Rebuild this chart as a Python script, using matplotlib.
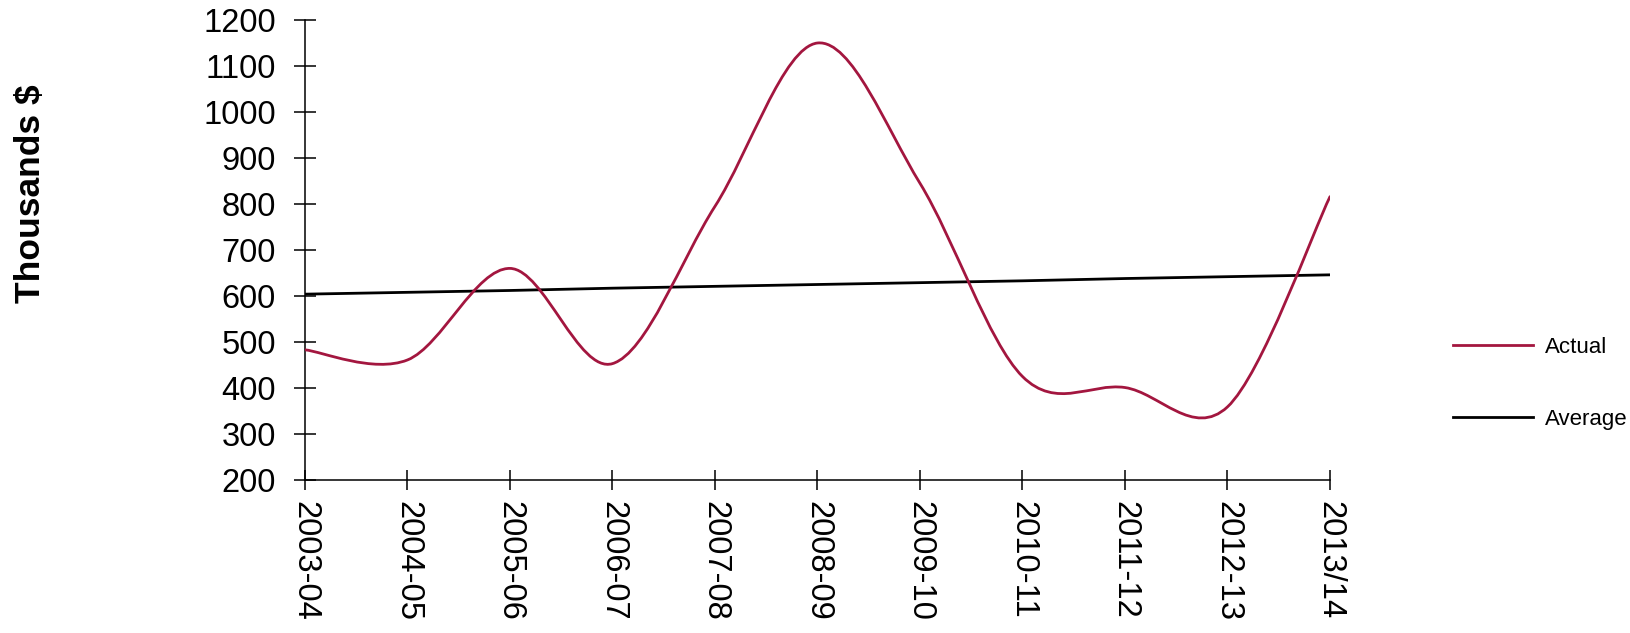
import numpy as np
import matplotlib
matplotlib.use("Agg")
import matplotlib.pyplot as plt
from matplotlib.path import Path
from matplotlib.patches import PathPatch
from matplotlib.lines import Line2D

years = ["2003-04", "2004-05", "2005-06", "2006-07", "2007-08", "2008-09",
         "2009-10", "2010-11", "2011-12", "2012-13", "2013/14"]
actual = [483, 461, 660, 453, 795, 1150, 845, 425, 401, 359, 816]
average = [604, 608, 612, 617, 621, 625, 629, 633, 638, 642, 646]

RED = "#a3163f"

plt.rcParams["font.family"] = ["Liberation Sans", "DejaVu Sans"]


def smooth_path(xs, ys):
    # spreadsheet-style smoothed line: cubic bezier through every point
    pts = np.column_stack([xs, ys]).astype(float)
    ext = np.vstack([pts[0], pts, pts[-1]])
    verts = [pts[0]]
    codes = [Path.MOVETO]
    for i in range(len(pts) - 1):
        p0, p1, p2, p3 = ext[i], ext[i + 1], ext[i + 2], ext[i + 3]
        verts += [p1 + (p2 - p0) / 6, p2 - (p3 - p1) / 6, p2]
        codes += [Path.CURVE4] * 3
    return Path(verts, codes)


fig = plt.figure(figsize=(16.31, 6.33), dpi=100)
ax = fig.add_axes([305 / 1631, 1 - 480 / 633, 1025 / 1631, 460 / 633])

x = np.arange(len(years))
ax.add_patch(PathPatch(smooth_path(x, actual), fill=False, edgecolor=RED,
                       lw=2.0, capstyle="round", zorder=3))
ax.plot(x, average, color="black", lw=2.0, zorder=2)

ax.set_xlim(0, len(years) - 1)
ax.set_ylim(200, 1200)
ax.set_yticks(range(200, 1201, 100))
ax.set_xticks(x)
ax.set_xticklabels(years, rotation=270, fontsize=23.5)
ax.tick_params(axis="y", labelsize=23.5, direction="inout", length=15.8,
               width=1.1, pad=13)
ax.tick_params(axis="x", direction="inout", length=14.5, width=1.1, pad=8)

for side in ("top", "right"):
    ax.spines[side].set_visible(False)
for side in ("left", "bottom"):
    ax.spines[side].set_linewidth(1.1)
ax.spines["left"].set_zorder(1)

fig.text(31 / 1631, 1 - 194 / 633, "Thousands $", rotation=90,
         fontsize=25.5, fontweight="bold", ha="center", va="center")

handles = [Line2D([], [], color=RED, lw=2.0),
           Line2D([], [], color="black", lw=2.0)]
fig.legend(handles, ["Actual", "Average"], loc="center left",
           bbox_to_anchor=(1453 / 1631, 1 - 383.5 / 633),
           bbox_transform=fig.transFigure, frameon=False,
           prop={"size": 16}, handlelength=3.6, handletextpad=0.55,
           labelspacing=2.3, borderpad=0, borderaxespad=0)

fig.savefig("out.png", dpi=100, facecolor="white")
